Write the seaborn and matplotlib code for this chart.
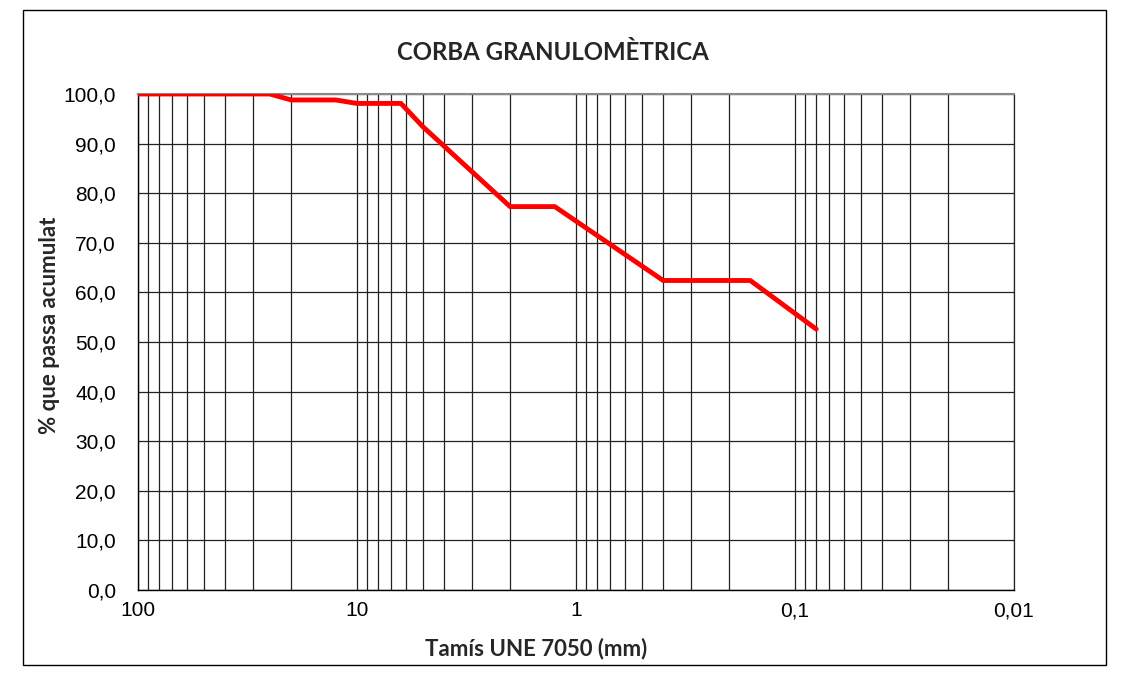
import numpy as np
import pandas as pd
import matplotlib
matplotlib.use("Agg")
import matplotlib.pyplot as plt
from matplotlib.patches import Rectangle
from matplotlib.ticker import FixedLocator, LogLocator, NullFormatter
import seaborn as sns

# Sieve openings (mm) and cumulative percent passing
sieve_mm = [100, 80, 63, 50, 40, 25, 20, 12.5, 10, 6.3, 5, 2, 1.25, 0.4, 0.16, 0.08]
passing_pct = [100.0, 100.0, 100.0, 100.0, 100.0, 100.0, 98.8, 98.8, 98.1, 98.1,
               93.4, 77.3, 77.3, 62.4, 62.4, 52.6]

x_ticks = [100, 10, 1, 0.1, 0.01]
x_tick_labels = ["100", "10", "1", "0,1", "0,01"]
y_ticks = [0, 10, 20, 30, 40, 50, 60, 70, 80, 90, 100]
y_tick_labels = ["0,0", "10,0", "20,0", "30,0", "40,0", "50,0", "60,0",
                 "70,0", "80,0", "90,0", "100,0"]

title = "CORBA GRANULOMÈTRICA"
x_label = "Tamís UNE 7050 (mm)"
y_label = "% que passa acumulat"

sns.set_theme(style="white")
plt.rcParams["font.family"] = ["Liberation Sans", "DejaVu Sans"]

df = pd.DataFrame({"sieve": sieve_mm, "passing": passing_pct})

W, H = 1129, 675
fig = plt.figure(figsize=(W / 100, H / 100), dpi=100)
fig.patch.set_facecolor("white")
ax = fig.add_axes([138 / W, 1 - 590 / H, (1014 - 138) / W, (590 - 94) / H])

# log-scale grid: majors and minors on x, every 10 % on y
ax.set_xscale("log")
ax.set_xlim(100, 0.01)
ax.set_ylim(0, 100)
ax.xaxis.set_major_locator(FixedLocator(x_ticks))
ax.xaxis.set_minor_locator(LogLocator(base=10, subs=np.arange(2, 10)))
ax.xaxis.set_minor_formatter(NullFormatter())
ax.set_xticks(x_ticks)
ax.set_xticklabels(x_tick_labels, fontsize=15)
ax.set_yticks(y_ticks)
ax.set_yticklabels(y_tick_labels, fontsize=15)

ax.grid(True, which="major", axis="both", color="#222222", linewidth=0.9)
ax.grid(True, which="minor", axis="x", color="#222222", linewidth=0.9)
ax.set_axisbelow(True)

sns.lineplot(data=df, x="sieve", y="passing", sort=False, ax=ax,
             color="#FF0000", linewidth=3.5, zorder=5)

for side in ["left", "bottom"]:
    ax.spines[side].set_color("black")
    ax.spines[side].set_linewidth(1.0)
ax.spines["top"].set_color("#888888")
ax.spines["top"].set_linewidth(1.5)
ax.spines["right"].set_color("#222222")
ax.spines["right"].set_linewidth(0.9)

ax.tick_params(axis="both", which="major", direction="out", length=5,
               width=1, color="black", labelcolor="black")
ax.tick_params(axis="y", which="major", pad=11)
ax.tick_params(axis="x", which="minor", length=0)
ax.tick_params(axis="x", which="major", pad=3)

ax.set_xlabel("")
ax.set_ylabel("")

bold_family = ["Lato", "DejaVu Sans"]
fig.text(536 / W, 1 - 649 / H, x_label, ha="center", va="center",
         fontsize=16, fontweight="bold", family=bold_family)
fig.text(50 / W, 1 - 325 / H, y_label, ha="center", va="center", rotation=90,
         fontsize=16, fontweight="bold", family=bold_family)
fig.text(553 / W, 1 - 52 / H, title, ha="center", va="center",
         fontsize=17.3, fontweight="bold", family=bold_family)

# outer chart frame
fig.add_artist(Rectangle((23 / W, 1 - 665 / H), (1106 - 23) / W, (665 - 10) / H,
                         transform=fig.transFigure, fill=False,
                         edgecolor="black", linewidth=1.0))

fig.savefig("out.png", dpi=100, facecolor="white")
